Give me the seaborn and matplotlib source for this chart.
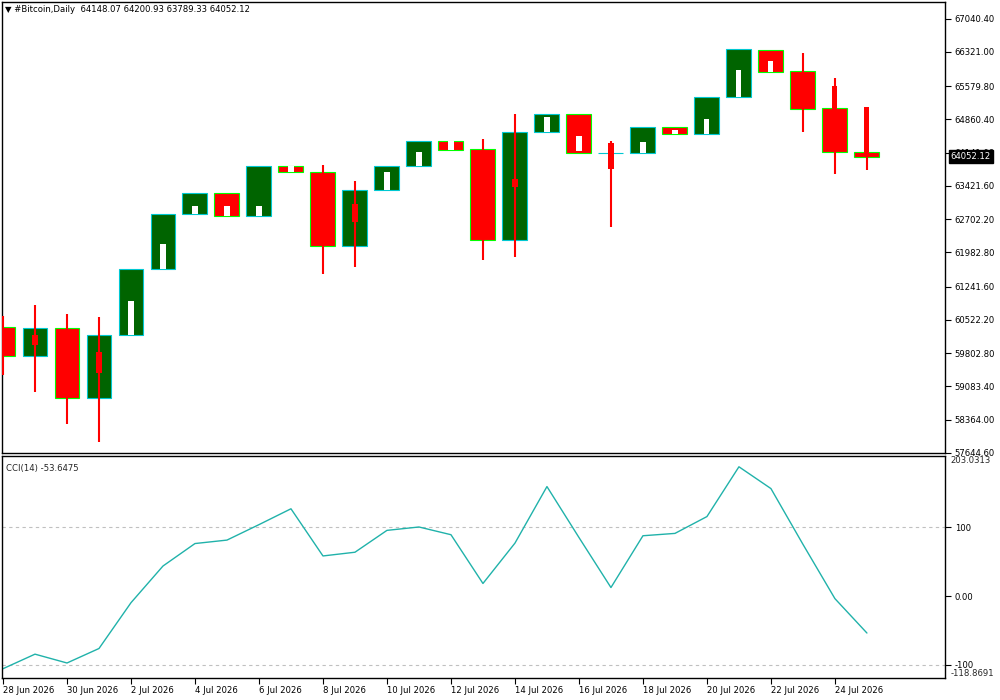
import numpy as np
import pandas as pd
import matplotlib
matplotlib.use("Agg")
import matplotlib.pyplot as plt
import matplotlib.transforms as mtransforms
import seaborn as sns

# ---------------- data ----------------
dates = pd.date_range("2026-06-28", periods=28, freq="D")
tick_labels = ["28 Jun 2026", "30 Jun 2026", "2 Jul 2026", "4 Jul 2026", "6 Jul 2026",
               "8 Jul 2026", "10 Jul 2026", "12 Jul 2026", "14 Jul 2026", "16 Jul 2026",
               "18 Jul 2026", "20 Jul 2026", "22 Jul 2026", "24 Jul 2026"]

box_open = [60378, 59731, 60356, 58826, 60205, 61628, 62813, 63265, 62770, 63847,
            63718, 62123, 63330, 63847, 64386, 64214, 62253, 64580, 64968, 64127,
            64127, 64688, 64537, 65356, 66369, 65916, 65119, 64148.07]
box_close = [59731, 60356, 58826, 60205, 61628, 62813, 63265, 62770, 63847, 63718,
             62123, 63330, 63847, 64386, 64192, 62253, 64580, 64968, 64127, 64135,
             64688, 64537, 65356, 66390, 65894, 65097, 64149, 64052.12]

ha_open = [60200, 60205, 60100, 59817, 60205, 61628, 62813, 62770, 62770, 63718,
           63300, 63028, 63330, 63847, 64192, 63800, 63567, 64580, 64171, 64343,
           64127, 64537, 64537, 65356, 65894, 65700, 65593, 65140]
ha_close = [59900, 59968, 59300, 59365, 60938, 62166, 62985, 62985, 62985, 63847,
            62700, 62640, 63718, 64149, 64386, 63000, 63395, 64903, 64494, 63783,
            64364, 64623, 64860, 65938, 66132, 65300, 65097, 64041]
ha_high = [60615, 60852, 60658, 60593, 60938, 62166, 62985, 62985, 62985, 63847,
           63869, 63524, 63718, 64149, 64386, 64429, 64968, 64903, 64494, 64386,
           64364, 64623, 64860, 65938, 66132, 66304, 65765, 65140]
ha_low = [59322, 58955, 58266, 57878, 60205, 61628, 62813, 62770, 62770, 63718,
          61520, 61671, 63330, 63847, 64192, 61822, 61886, 64580, 64171, 62533,
          64127, 64537, 64537, 65356, 65894, 64580, 63675, 63761]

cci = [-105.4, -84.3, -97.1, -76.1, -9.7, 43.5, 76.1, 81.1, 103.5, 126.5,
       58.1, 63.5, 95.2, 100.1, 88.9, 18.2, 76.7, 158.7, 84.9, 12.3,
       87.4, 90.8, 115.2, 187.4, 155.8, 75.0, -3.8, -53.6475]

price_ticks = [67040.40, 66321.00, 65579.80, 64860.40, 64141.00, 63421.60, 62702.20,
               61982.80, 61241.60, 60522.20, 59802.80, 59083.40, 58364.00, 57644.60]
header_ohlc = [64148.07, 64200.93, 63789.33, 64052.12]
cci_range = [-118.8691, 203.0313]
cci_levels = [100, -100]
last_price = 64052.12

# ---------------- style ----------------
sns.set_style("white")
plt.rcParams['font.family'] = ['DejaVu Sans']
FS = 6.1

df = pd.DataFrame({"x": np.arange(len(dates)), "cci": cci})
idx = df["x"].to_numpy()
bo, bc = np.array(box_open), np.array(box_close)
ho, hc = np.array(ha_open), np.array(ha_close)
hh, hl = np.array(ha_high), np.array(ha_low)

fig = plt.figure(figsize=(10, 7), dpi=100)
ax = fig.add_axes([0.002, 1 - 453 / 700, 0.943, 451 / 700])
ax2 = fig.add_axes([0.002, 1 - 678 / 700, 0.943, 222 / 700])

xlim = (-0.031, 29.44)

# ---- main candles ----
bull = bc >= bo
ax.bar(idx, bc - bo, bottom=bo, width=0.78,
       color=np.where(bull, "#006400", "#ff0000"),
       edgecolor=np.where(bull, "#00c8d2", "#00ff00"),
       linewidth=0.8, zorder=2)

ha_bull = hc >= ho
ax.vlines(idx[~ha_bull], hl[~ha_bull], hh[~ha_bull], color="#ff0000", lw=1.5, zorder=3)
ax.vlines(idx[ha_bull], hl[ha_bull], hh[ha_bull], color="#ffffff", lw=1.5, zorder=1)
ax.bar(idx, hc - ho, bottom=ho, width=0.16,
       color=np.where(ha_bull, "#ffffff", "#ff0000"), linewidth=0, zorder=4)

ax.set_xlim(*xlim)
ax.set_ylim(57640, 67403)
ax.set_xticks([])
ax.yaxis.tick_right()
ax.set_yticks(price_ticks)
ax.set_yticklabels([f"{v:.2f}" for v in price_ticks])
ax.tick_params(axis="y", length=4, width=0.8, pad=3, labelsize=FS, colors="black",
               direction="out", right=True)
for s in ax.spines.values():
    s.set_color("black"); s.set_linewidth(1.0); s.set_visible(True)

trans = mtransforms.blended_transform_factory(ax.transAxes, ax.transData)
ax.text(1.006, last_price, f"{last_price:.2f}", transform=trans, color="white",
        fontsize=FS, va="center", ha="left", zorder=10, clip_on=False,
        bbox=dict(boxstyle="square,pad=0.25", facecolor="black", edgecolor="black"))

fig.text(0.005, 1 - 10 / 700,
         "\u25bc #Bitcoin,Daily  " + " ".join(f"{v:.2f}" for v in header_ohlc),
         fontsize=FS, va="center", ha="left", color="black")

# ---- CCI panel ----
sns.lineplot(data=df, x="x", y="cci", ax=ax2, color="#20b2aa", linewidth=1.0)
for lv in cci_levels:
    ax2.axhline(lv, color="#c0c0c0", lw=0.8, ls=(0, (3, 3)), zorder=0)
ax2.set_xlim(*xlim)
ax2.set_ylim(cci_range[0], cci_range[1])
ax2.set_xlabel("")
ax2.set_ylabel("")
ax2.set_xticks(idx[::2])
ax2.set_xticklabels(tick_labels, ha="left")
ax2.tick_params(axis="x", length=4, width=0.8, pad=2, labelsize=FS, colors="black",
                direction="out", bottom=True)
ax2.yaxis.tick_right()
ax2.set_yticks([100, 0, -100])
ax2.set_yticklabels(["100", "0.00", "-100"])
ax2.tick_params(axis="y", length=4, width=0.8, pad=3, labelsize=FS, colors="black",
                direction="out", right=True)
trans2 = mtransforms.blended_transform_factory(ax2.transAxes, ax2.transData)
ax2.text(1.006, cci_range[1], f"{cci_range[1]:.4f}", transform=trans2, fontsize=FS,
         va="top", ha="left", clip_on=False)
ax2.text(1.006, cci_range[0], f"{cci_range[0]:.4f}", transform=trans2, fontsize=FS,
         va="bottom", ha="left", clip_on=False)
ax2.text(0.004, 0.965, f"CCI(14) {cci[-1]:.4f}", transform=ax2.transAxes, fontsize=FS,
         va="top", ha="left")
for s in ax2.spines.values():
    s.set_color("black"); s.set_linewidth(1.0); s.set_visible(True)

fig.savefig("out.png", dpi=100, facecolor="white")
